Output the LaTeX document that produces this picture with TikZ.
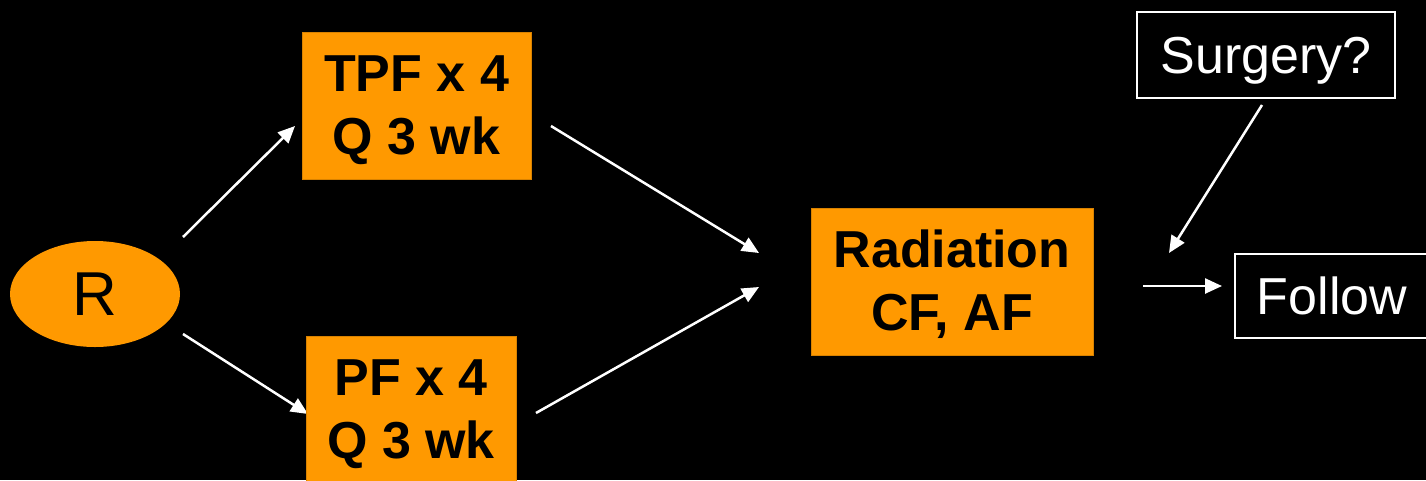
\documentclass[tikz,border=0pt]{standalone}
\usepackage{fontspec}
\setmainfont{Liberation Sans}
\usetikzlibrary{arrows.meta,shapes.geometric}
\definecolor{orng}{HTML}{FF9900}
\pgfdeclarelayer{bg}
\pgfsetlayers{bg,main}
\tikzset{
  obox/.style={fill=orng, draw=orng!85!black, line width=0.8pt, inner sep=0pt, align=center,
    font=\bfseries\fontsize{52}{63}\selectfont, text=black, text height=97pt, text depth=0pt},
  wbox/.style={fill=black, draw=white, line width=2pt, inner sep=0pt, align=center,
    font=\fontsize{52}{63}\selectfont, text=white, text height=37pt, text depth=0pt},
  conn/.style={draw=white, line width=2.5pt, -{Triangle[length=17pt,width=15pt]}}
}
\begin{document}
\begin{tikzpicture}[x=1pt,y=-1pt]
\useasboundingbox (0,0) rectangle (1426,480);
\clip (0,0) rectangle (1426,480);
\begin{pgfonlayer}{bg}
\fill[black] (0,0) rectangle (1426,480);
\end{pgfonlayer}
% nodes
\node[ellipse, fill=orng, minimum width=170pt, minimum height=106pt, inner sep=0pt,
  font=\fontsize{62}{70}\selectfont] (R) at (95,294) {R};
\node[obox, minimum width=229pt, minimum height=147pt] (TPF) at (416.5,105.5) {TPF x 4\\Q 3 wk};
\node[obox, minimum width=210pt, minimum height=147pt] (PF) at (411,409.5) {PF x 4\\Q 3 wk};
\node[obox, minimum width=282pt, minimum height=147pt] (RAD) at (952,281.5) {Radiation\\CF, AF};
\node[wbox, minimum width=258pt, minimum height=86pt] (SUR) at (1266,55) {Surgery?};
\node[wbox, minimum width=194pt, minimum height=84pt] (FOL) at (1332,296) {Follow};
% connector end points
\coordinate (a1s) at (183,237); \coordinate (a1e) at (295,126);
\coordinate (a2s) at (183,334); \coordinate (a2e) at (308,414);
\coordinate (a3s) at (551,126); \coordinate (a3e) at (759,253);
\coordinate (a4s) at (536,413); \coordinate (a4e) at (759,287);
\coordinate (a5s) at (1262,105); \coordinate (a5e) at (1169,253);
\coordinate (a6s) at (1143,286); \coordinate (a6e) at (1222,286);
\begin{pgfonlayer}{bg}
\draw[conn] (a1s) -- (a1e);
\draw[conn] (a2s) -- (a2e);
\draw[conn] (a3s) -- (a3e);
\draw[conn] (a4s) -- (a4e);
\draw[conn] (a5s) -- (a5e);
\draw[conn] (a6s) -- (a6e);
\end{pgfonlayer}
\end{tikzpicture}
\end{document}
